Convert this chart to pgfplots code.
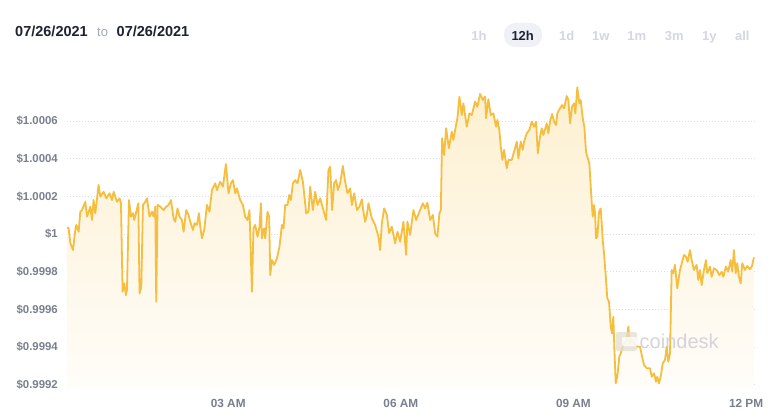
\documentclass[border=0pt]{standalone}
\usepackage{fontspec}
\setmainfont{Liberation Sans}
\usepackage{pgfplots}
\pgfplotsset{compat=1.18}
\usepackage{pgfplotstable}
\definecolor{linegold}{RGB}{245,190,62}
\definecolor{filltop}{RGB}{253,240,208}
\definecolor{fillbot}{RGB}{255,253,249}
\definecolor{gridc}{RGB}{218,221,236}
\definecolor{ticktxt}{RGB}{122,127,143}
\definecolor{darktxt}{RGB}{30,34,52}
\definecolor{lighttxt}{RGB}{165,169,182}
\definecolor{btntxt}{RGB}{212,215,226}
\definecolor{pill}{RGB}{240,241,247}
\definecolor{wm}{RGB}{196,199,210}

\pgfplotstableread{
h p
0.198 1.000036
0.226 1.000030
0.256 0.999951
0.302 0.999915
0.342 1.000021
0.360 1.000048
0.400 1.000012
0.429 1.000118
0.459 1.000127
0.516 1.000171
0.546 1.000092
0.603 1.000145
0.632 1.000074
0.660 1.000180
0.690 1.000110
0.747 1.000260
0.777 1.000198
0.834 1.000224
0.881 1.000189
0.938 1.000216
0.980 1.000180
1.008 1.000224
1.067 1.000171
1.112 1.000189
1.136 1.000163
1.164 0.999694
1.194 0.999738
1.223 0.999676
1.240 0.999703
1.275 1.000180
1.310 1.000092
1.345 1.000110
1.367 1.000074
1.402 1.000118
1.437 1.000163
1.459 0.999685
1.489 0.999720
1.518 1.000154
1.558 1.000171
1.588 1.000189
1.633 1.000092
1.675 1.000118
1.702 1.000092
1.732 1.000145
1.749 0.999641
1.772 1.000154
1.819 1.000145
1.876 1.000127
1.923 1.000145
1.963 1.000154
2.005 1.000180
2.050 1.000083
2.079 1.000065
2.119 1.000136
2.154 1.000092
2.196 1.000074
2.224 1.000012
2.270 1.000127
2.310 1.000101
2.340 1.000065
2.387 1.000021
2.415 1.000057
2.456 1.000048
2.491 1.000110
2.514 1.000039
2.543 0.999977
2.583 1.000021
2.630 1.000154
2.675 1.000118
2.717 1.000233
2.774 1.000269
2.804 1.000233
2.861 1.000277
2.908 1.000251
2.960 1.000371
3.005 1.000216
3.047 1.000269
3.082 1.000286
3.122 1.000216
3.151 1.000242
3.208 1.000180
3.255 1.000154
3.295 1.000092
3.335 1.000074
3.370 1.000127
3.412 0.999694
3.439 1.000030
3.469 1.000048
3.509 0.999986
3.544 1.000039
3.568 1.000163
3.585 0.999977
3.625 1.000030
3.643 0.999977
3.683 1.000118
3.712 1.000092
3.730 0.999782
3.759 0.999862
3.799 0.999836
3.846 0.999871
3.891 0.999933
3.933 1.000048
3.961 1.000030
3.990 1.000154
4.030 1.000154
4.060 1.000207
4.089 1.000180
4.124 1.000269
4.164 1.000286
4.204 1.000269
4.251 1.000340
4.298 1.000277
4.355 1.000110
4.395 1.000118
4.424 1.000251
4.471 1.000127
4.511 1.000224
4.551 1.000154
4.598 1.000189
4.645 1.000136
4.702 1.000074
4.742 1.000340
4.772 1.000357
4.806 1.000127
4.841 1.000269
4.876 1.000286
4.905 1.000233
4.945 1.000269
4.992 1.000361
5.032 1.000277
5.072 1.000216
5.119 1.000242
5.149 1.000154
5.189 1.000216
5.236 1.000127
5.281 1.000145
5.322 1.000184
5.350 1.000118
5.380 1.000065
5.409 1.000101
5.437 1.000163
5.496 1.000083
5.553 1.000048
5.611 0.999986
5.640 0.999915
5.670 1.000057
5.710 1.000136
5.757 1.000101
5.797 1.000004
5.843 1.000039
5.901 0.999951
5.941 1.000012
5.988 0.999959
6.045 1.000065
6.092 0.999889
6.114 1.000065
6.161 0.999995
6.219 1.000127
6.266 1.000074
6.323 1.000118
6.382 1.000163
6.422 1.000136
6.462 1.000166
6.509 1.000074
6.556 1.000101
6.596 1.000004
6.636 0.999986
6.670 1.000110
6.695 1.000127
6.717 1.000508
6.752 1.000419
6.787 1.000561
6.834 1.000455
6.886 1.000543
6.913 1.000499
6.960 1.000578
6.983 1.000614
7.018 1.000728
7.059 1.000631
7.087 1.000693
7.146 1.000569
7.191 1.000640
7.233 1.000631
7.290 1.000702
7.330 1.000675
7.377 1.000743
7.424 1.000711
7.464 1.000728
7.481 1.000614
7.521 1.000715
7.563 1.000631
7.608 1.000640
7.655 1.000569
7.678 1.000605
7.712 1.000552
7.737 1.000463
7.765 1.000393
7.794 1.000446
7.841 1.000349
7.869 1.000393
7.928 1.000393
7.968 1.000437
8.015 1.000490
8.043 1.000402
8.084 1.000490
8.119 1.000446
8.142 1.000490
8.188 1.000534
8.234 1.000552
8.275 1.000596
8.315 1.000569
8.350 1.000596
8.380 1.000428
8.419 1.000516
8.449 1.000561
8.477 1.000525
8.536 1.000587
8.564 1.000534
8.593 1.000596
8.628 1.000637
8.663 1.000596
8.697 1.000578
8.720 1.000640
8.767 1.000667
8.802 1.000684
8.836 1.000667
8.883 1.000732
8.911 1.000711
8.941 1.000587
8.975 1.000675
9.010 1.000693
9.033 1.000640
9.067 1.000778
9.102 1.000693
9.126 1.000711
9.161 1.000614
9.189 1.000569
9.218 1.000437
9.241 1.000410
9.276 1.000375
9.318 1.000163
9.335 1.000092
9.357 1.000154
9.375 1.000110
9.392 0.999977
9.415 0.999986
9.444 1.000118
9.474 1.000136
9.509 0.999968
9.531 0.999898
9.566 0.999756
9.588 0.999659
9.618 0.999641
9.648 0.999508
9.670 0.999473
9.693 0.999561
9.710 0.999402
9.734 0.999208
9.762 0.999243
9.797 0.999349
9.821 0.999367
9.856 0.999402
9.884 0.999420
9.925 0.999438
9.953 0.999508
9.983 0.999420
10.012 0.999438
10.052 0.999420
10.110 0.999402
10.156 0.999402
10.226 0.999305
10.273 0.999288
10.330 0.999288
10.360 0.999243
10.400 0.999261
10.434 0.999216
10.457 0.999243
10.486 0.999208
10.516 0.999243
10.551 0.999314
10.591 0.999332
10.620 0.999402
10.648 0.999323
10.678 0.999367
10.707 0.999809
10.735 0.999792
10.764 0.999836
10.804 0.999712
10.851 0.999809
10.898 0.999862
10.921 0.999889
10.955 0.999880
10.985 0.999853
11.025 0.999915
11.054 0.999862
11.094 0.999809
11.141 0.999836
11.169 0.999756
11.199 0.999809
11.228 0.999729
11.268 0.999809
11.303 0.999862
11.325 0.999792
11.372 0.999827
11.402 0.999773
11.442 0.999818
11.489 0.999809
11.534 0.999782
11.576 0.999800
11.603 0.999773
11.650 0.999827
11.690 0.999800
11.732 0.999862
11.760 0.999800
11.789 0.999915
11.819 0.999792
11.847 0.999845
11.876 0.999773
11.906 0.999738
11.933 0.999845
11.980 0.999809
12.020 0.999830
12.067 0.999813
12.102 0.999830
12.137 0.999876
}\pricedata

\begin{document}
\begin{tikzpicture}
\begin{scope}[x=1pt,y=1pt,shift={(-67pt,-30pt)}]
\fill[white] (0,0) rectangle (775,418);
\path[use as bounding box] (0,0) rectangle (775,418);
% header
\node[anchor=base west, inner sep=0pt, text=darktxt, font=\fontsize{14.5}{16}\selectfont\bfseries] at (15,381) {07/26/2021};
\node[anchor=base west, inner sep=0pt, text=lighttxt, font=\fontsize{13}{15}\selectfont] at (97,381) {to};
\node[anchor=base west, inner sep=0pt, text=darktxt, font=\fontsize{14.5}{16}\selectfont\bfseries] at (116.5,381) {07/26/2021};
% range buttons
\fill[pill, rounded corners=11pt] (504,371) rectangle (542,395);
\begin{scope}[every node/.style={anchor=base, inner sep=0pt, font=\fontsize{13}{15}\selectfont\bfseries}]
\node[text=btntxt] at (479,377.3) {1h};
\node[text=darktxt] at (522.7,377.3) {12h};
\node[text=btntxt] at (566.7,377.3) {1d};
\node[text=btntxt] at (600.7,377.3) {1w};
\node[text=btntxt] at (636.7,377.3) {1m};
\node[text=btntxt] at (674.3,377.3) {3m};
\node[text=btntxt] at (709.3,377.3) {1y};
\node[text=btntxt] at (742.3,377.3) {all};
\end{scope}
\end{scope}
\begin{axis}[
  scale only axis,
  width=690pt, height=308pt,
  xmin=0.198, xmax=12.19, ymin=0.999183, ymax=1.000817,
  y coord trafo/.code={\edef\pgfmathresult{\fpeval{(#1-0.999)*10000}}},
  axis line style={draw=none}, major tick length=0pt,
  xtick={3,6,9,12}, xticklabels={03 AM,06 AM,09 AM,12 PM},
  ytick={0.9992,0.9994,0.9996,0.9998,1,1.0002,1.0004,1.0006},
  yticklabels={\$0.9992,\$0.9994,\$0.9996,\$0.9998,\$1,\$1.0002,\$1.0004,\$1.0006},
  ymajorgrids,
  grid style={gridc, line width=0.8pt, dash pattern=on 0.8pt off 2.2pt},
  /pgf/number format/assume math mode=true,
  xticklabel style={font=\fontsize{11.8}{13}\selectfont\bfseries, text=ticktxt, anchor=center, inner sep=0pt, yshift=-15pt},
  yticklabel style={font=\fontsize{11.4}{13}\selectfont\bfseries, text=ticktxt, anchor=east, inner sep=0pt, xshift=-9pt},
]
\addplot[draw=none, top color=filltop, bottom color=fillbot, forget plot] table[x=h,y=p] {\pricedata} \closedcycle;
\addplot[linegold, line width=1.8pt, line join=round, mark=none] table[x=h,y=p] {\pricedata};
\end{axis}
% watermark
\begin{scope}[x=1pt,y=1pt,shift={(-67pt,-30pt)},opacity=0.75]
\fill[wm!45!filltop, rounded corners=2pt] (616,67) rectangle (637,86);
\fill[white, rounded corners=1pt] (622,72) rectangle (637,81);
\node[anchor=base west, inner sep=0pt, text=wm, font=\fontsize{20}{22}\selectfont] at (639.5,70) {coindesk};
\end{scope}
\end{tikzpicture}
\end{document}
